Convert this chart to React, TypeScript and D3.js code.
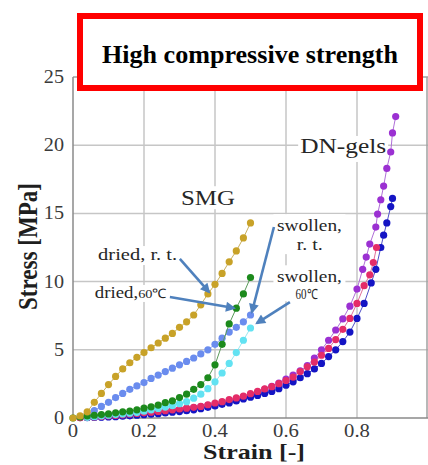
import React from 'react';
import * as d3 from 'd3';

// ---------- data ----------
const xTicks = [0, 0.2, 0.4, 0.6, 0.8];
const xTickLabels = ['0', '0.2', '0.4', '0.6', '0.8'];
const yTicks = [0, 5, 10, 15, 20, 25];
const yTickLabels = ['0', '5', '10', '15', '20', '25'];

// SMG: dried, r. t.
const goldStrain = [0, 0.02, 0.04, 0.06, 0.08, 0.10, 0.12, 0.14, 0.16, 0.18, 0.20, 0.22, 0.24, 0.26, 0.28, 0.30, 0.32, 0.34, 0.36, 0.38, 0.40, 0.42, 0.44, 0.46, 0.48, 0.50];
const goldStress = [0, 0.15, 0.45, 1.15, 1.8, 2.45, 3.05, 3.6, 4.05, 4.45, 4.8, 5.15, 5.5, 5.85, 6.2, 6.65, 7.05, 7.55, 8.3, 9.1, 9.8, 10.6, 11.45, 12.25, 13.2, 14.3];

// SMG: swollen, r. t.
const blueStrain = [0.04, 0.06, 0.08, 0.10, 0.12, 0.14, 0.16, 0.18, 0.20, 0.22, 0.24, 0.26, 0.28, 0.30, 0.32, 0.34, 0.36, 0.38, 0.40, 0.42, 0.44, 0.46, 0.48, 0.50];
const blueStress = [0.25, 0.55, 0.85, 1.15, 1.5, 1.8, 2.1, 2.35, 2.6, 2.9, 3.15, 3.4, 3.65, 3.9, 4.15, 4.4, 4.7, 5.0, 5.4, 5.85, 6.3, 6.65, 7.05, 7.55];

// SMG: dried, 60℃
const greenStrain = [0, 0.02, 0.04, 0.06, 0.08, 0.10, 0.12, 0.14, 0.16, 0.18, 0.20, 0.22, 0.24, 0.26, 0.28, 0.30, 0.32, 0.34, 0.36, 0.38, 0.40, 0.42, 0.44, 0.46, 0.48, 0.50];
const greenStress = [0, 0.08, 0.15, 0.2, 0.25, 0.3, 0.38, 0.45, 0.5, 0.6, 0.72, 0.82, 0.95, 1.12, 1.25, 1.5, 1.75, 2.1, 2.45, 2.95, 3.9, 5.4, 6.9, 8.05, 9.1, 10.3];

// SMG: swollen, 60℃
const cyanStrain = [0.04, 0.06, 0.08, 0.10, 0.12, 0.14, 0.16, 0.18, 0.20, 0.22, 0.24, 0.26, 0.28, 0.30, 0.32, 0.34, 0.36, 0.38, 0.40, 0.42, 0.44, 0.46, 0.48, 0.50];
const cyanStress = [0.05, 0.1, 0.15, 0.2, 0.25, 0.3, 0.35, 0.4, 0.5, 0.6, 0.7, 0.8, 0.9, 1.05, 1.2, 1.45, 1.75, 2.15, 2.65, 3.3, 4.0, 4.8, 5.7, 6.6];

// DN-gels (navy)
const navyStrain = [0.04, 0.06, 0.08, 0.10, 0.12, 0.14, 0.16, 0.18, 0.20, 0.22, 0.24, 0.26, 0.28, 0.30, 0.32, 0.34, 0.36, 0.38, 0.40, 0.42, 0.44, 0.46, 0.48, 0.50, 0.52, 0.54, 0.56, 0.58, 0.60, 0.62, 0.64, 0.66, 0.68, 0.70, 0.72, 0.74, 0.76, 0.78, 0.80, 0.82, 0.84, 0.853, 0.867, 0.875, 0.884, 0.895, 0.90];
const navyStress = [0.02, 0.04, 0.06, 0.08, 0.1, 0.13, 0.16, 0.2, 0.24, 0.28, 0.32, 0.37, 0.42, 0.47, 0.53, 0.6, 0.68, 0.78, 0.88, 1.0, 1.1, 1.25, 1.4, 1.52, 1.65, 1.8, 1.95, 2.15, 2.4, 2.65, 2.95, 3.25, 3.6, 4.0, 4.5, 5.0, 5.6, 6.3, 7.3, 8.4, 9.9, 10.9, 12.5, 13.4, 14.3, 15.5, 16.1];

// DN-gels (crimson)
const pinkStrain = [0.02, 0.04, 0.06, 0.08, 0.10, 0.12, 0.14, 0.16, 0.18, 0.20, 0.22, 0.24, 0.26, 0.28, 0.30, 0.32, 0.34, 0.36, 0.38, 0.40, 0.42, 0.44, 0.46, 0.48, 0.50, 0.52, 0.54, 0.56, 0.58, 0.60, 0.62, 0.64, 0.66, 0.68, 0.70, 0.72, 0.74, 0.76, 0.78, 0.80, 0.82, 0.836, 0.846, 0.855];
const pinkStress = [0.02, 0.05, 0.08, 0.11, 0.15, 0.19, 0.23, 0.28, 0.33, 0.38, 0.43, 0.48, 0.54, 0.6, 0.66, 0.72, 0.78, 0.85, 0.97, 1.1, 1.2, 1.35, 1.47, 1.6, 1.78, 1.95, 2.13, 2.3, 2.52, 2.75, 3.0, 3.4, 3.75, 4.1, 4.6, 5.1, 5.75, 6.5, 7.3, 8.4, 9.7, 10.5, 11.4, 12.5];

// DN-gels (purple)
const purpleStrain = [0.02, 0.04, 0.06, 0.08, 0.10, 0.12, 0.14, 0.16, 0.18, 0.20, 0.22, 0.24, 0.26, 0.28, 0.30, 0.32, 0.34, 0.36, 0.38, 0.40, 0.42, 0.44, 0.46, 0.48, 0.50, 0.52, 0.54, 0.56, 0.58, 0.60, 0.62, 0.64, 0.66, 0.68, 0.70, 0.72, 0.74, 0.76, 0.78, 0.80, 0.816, 0.826, 0.836, 0.853, 0.858, 0.867, 0.875, 0.884, 0.895, 0.90, 0.909];
const purpleStress = [0.02, 0.04, 0.06, 0.09, 0.12, 0.16, 0.2, 0.24, 0.29, 0.34, 0.39, 0.44, 0.5, 0.56, 0.62, 0.68, 0.76, 0.84, 0.93, 1.03, 1.14, 1.27, 1.4, 1.55, 1.72, 1.9, 2.1, 2.32, 2.56, 2.85, 3.15, 3.45, 3.85, 4.4, 5.0, 5.7, 6.45, 7.26, 8.2, 9.45, 10.9, 11.8, 12.75, 14.0, 14.95, 16.0, 17.0, 18.3, 19.5, 20.9, 22.1];

type Series = { key: string; strain: number[]; stress: number[]; color: string; lineColor: string };

// draw order: DN-gels first, then SMG
const seriesList: Series[] = [
  { key: 'purple', strain: purpleStrain, stress: purpleStress, color: '#9b30d2', lineColor: '#b070d8' },
  { key: 'navy', strain: navyStrain, stress: navyStress, color: '#1414c4', lineColor: '#5050c8' },
  { key: 'pink', strain: pinkStrain, stress: pinkStress, color: '#e42c68', lineColor: '#e0709a' },
  { key: 'cyan', strain: cyanStrain, stress: cyanStress, color: '#62e2f2', lineColor: '#9ae8f0' },
  { key: 'blue', strain: blueStrain, stress: blueStress, color: '#6a8cee', lineColor: '#90a8ec' },
  { key: 'green', strain: greenStrain, stress: greenStress, color: '#1c8a1c', lineColor: '#5a9a5a' },
  { key: 'gold', strain: goldStrain, stress: goldStress, color: '#c8a228', lineColor: '#c8b060' },
];

// annotation labels (data coordinates)
type Label = { text: string; sub?: string; s: number; v: number; size: number; len: number; box?: [number, number, number, number] };
const labels: Label[] = [
  { text: 'SMG', s: 0.38, v: 15.6, size: 22, len: 54, box: [-29, -19, 58, 23] },
  { text: 'DN-gels', s: 0.761, v: 19.43, size: 22, len: 86, box: [-45, -17, 90, 26] },
  { text: 'dried, r. t.', s: 0.182, v: 11.58, size: 17, len: 79, box: [-42, -14, 84, 19] },
  { text: 'dried,', sub: '60℃', s: 0.163, v: 8.8, size: 17, len: 72, box: [-39, -13, 78, 17] },
  { text: 'swollen,', s: 0.666, v: 13.7, size: 16, len: 65, box: [-36, -17, 72, 40] },
  { text: 'r. t.', s: 0.667, v: 12.3, size: 16, len: 26 },
  { text: 'swollen,', s: 0.666, v: 9.95, size: 16, len: 65, box: [-36, -17, 72, 36] },
  { text: '60℃', s: 0.658, v: 8.72, size: 14, len: 22 },
];

// arrows: [start strain, start stress] -> [end strain, end stress]
const arrowFrom = [[0.301, 11.66], [0.273, 8.87], [0.566, 14.0], [0.611, 8.5]];
const arrowTo = [[0.383, 9.24], [0.4535, 8.06], [0.504, 7.77], [0.518, 6.96]];

export default function App() {
  const x = d3.scaleLinear().domain([0, 1]).range([73, 428]);
  const y = d3.scaleLinear().domain([0, 25]).range([418, 77]);
  const line = d3.line<[number, number]>().x(d => x(d[0])).y(d => y(d[1]));
  const serif = '"Liberation Serif", Tinos, "Times New Roman", Times, serif';
  const gridColor = '#c6c6c6';
  const arrowColor = '#4f81bd';

  return (
    <svg width={428} height={465} style={{ position: 'absolute', left: 0, top: 0, background: '#fff' }} fontFamily={serif}>
      <defs>
        <marker id="ah" viewBox="0 0 10 10" refX="8" refY="5" markerWidth="11" markerHeight="10" markerUnits="userSpaceOnUse" orient="auto">
          <path d="M0,0 L10,5 L0,10 z" fill={arrowColor} />
        </marker>
      </defs>
      <rect x={0} y={0} width={428} height={465} fill="#fff" />

      {/* grid */}
      {xTicks.filter(t => t > 0).map(t => (
        <line key={'gx' + t} x1={x(t)} x2={x(t)} y1={y(0)} y2={y(25)} stroke={gridColor} strokeWidth={1.5} />
      ))}
      {yTicks.filter(t => t > 0 && t < 25).map(t => (
        <line key={'gy' + t} x1={x(0)} x2={x(1)} y1={y(t)} y2={y(t)} stroke={gridColor} strokeWidth={1.5} />
      ))}
      {/* frame */}
      <line x1={x(0)} x2={x(1)} y1={y(25)} y2={y(25)} stroke="#a0a0a0" strokeWidth={1.5} />
      <line x1={x(1) - 1} x2={x(1) - 1} y1={y(25)} y2={y(0)} stroke="#a0a0a0" strokeWidth={1.5} />
      <line x1={x(0)} x2={x(0)} y1={y(25)} y2={y(0)} stroke="#8a8a8a" strokeWidth={1.5} />
      <line x1={x(0)} x2={x(1)} y1={y(0)} y2={y(0)} stroke="#8a8a8a" strokeWidth={1.5} />

      {/* label background boxes */}
      {labels.filter(l => l.box).map((l, i) => (
        <rect key={'lb' + i} x={x(l.s) + l.box![0]} y={y(l.v) + l.box![1]} width={l.box![2]} height={l.box![3]} fill="#fff" />
      ))}

      {/* series */}
      {seriesList.map(s => {
        const pts = s.strain.map((v, i) => [v, s.stress[i]] as [number, number]);
        return (
          <g key={s.key}>
            <path d={line(pts) || ''} fill="none" stroke={s.lineColor} strokeWidth={1} />
            {pts.map((p, i) => (
              <circle key={i} cx={x(p[0])} cy={y(p[1])} r={3.6} fill={s.color} />
            ))}
          </g>
        );
      })}

      {/* labels */}
      {labels.map((l, i) => (
        <text key={'lt' + i} x={x(l.s)} y={y(l.v)} fontSize={l.size} textAnchor="middle" fill="#262626" textLength={l.len} lengthAdjust="spacingAndGlyphs">
          {l.text}
          {l.sub ? <tspan fontSize={13}>{l.sub}</tspan> : null}
        </text>
      ))}

      {/* arrows */}
      {arrowFrom.map((a, i) => (
        <line key={'ar' + i} x1={x(a[0])} y1={y(a[1])} x2={x(arrowTo[i][0])} y2={y(arrowTo[i][1])} stroke={arrowColor} strokeWidth={2.6} markerEnd="url(#ah)" />
      ))}

      {/* tick labels */}
      {xTicks.map((t, i) => (
        <g key={'xt' + t} transform={`translate(${x(t)},${437}) scale(1.15,1)`}>
          <text x={0} y={0} fontSize={18} textAnchor="middle" fill="#3a3a3a">{xTickLabels[i]}</text>
        </g>
      ))}
      {yTicks.map((t, i) => (
        <g key={'yt' + t} transform={`translate(${64},${y(t) + 6}) scale(1.12,1)`}>
          <text x={0} y={0} fontSize={18} textAnchor="end" fill="#3a3a3a">{yTickLabels[i]}</text>
        </g>
      ))}

      {/* axis titles */}
      <text x={254} y={459} fontSize={21} fontWeight="bold" textAnchor="middle" fill="#1e1e1e" textLength={102} lengthAdjust="spacingAndGlyphs">Strain [-]</text>
      <g transform={`translate(37,${246.5}) scale(1.18,1) rotate(-90)`}>
        <text x={0} y={0} fontSize={23} fontWeight="bold" textAnchor="middle" fill="#1e1e1e" textLength={127} lengthAdjust="spacingAndGlyphs">Stress [MPa]</text>
      </g>

      {/* title box */}
      <rect x={80} y={16} width={340} height={72} fill="#fff" stroke="#ff0000" strokeWidth={6} />
      <text x={250} y={63} fontSize={26} fontWeight="bold" textAnchor="middle" fill="#000" textLength={296} lengthAdjust="spacingAndGlyphs">High compressive strength</text>
    </svg>
  );
}
